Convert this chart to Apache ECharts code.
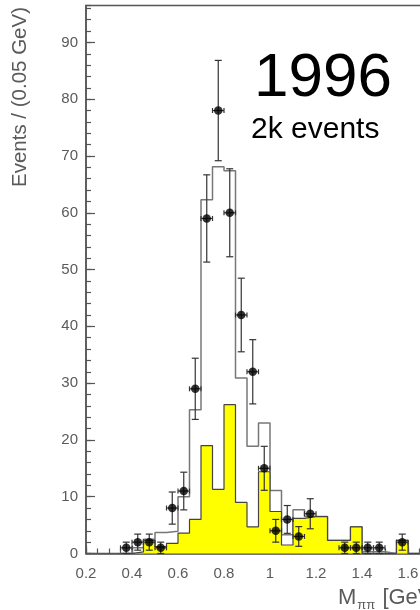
<!DOCTYPE html>
<html>
<head>
<meta charset="utf-8">
<script src="https://cdn.jsdelivr.net/npm/echarts@6/dist/echarts.min.js"></script>
<style>
  html, body { margin: 0; padding: 0; background: #fff; }
  #chart { width: 420px; height: 610px; }
</style>
</head>
<body>
<div id="chart"></div>
<script>
// Histogram bins: lower edges in GeV, 0.05 GeV wide
const binLow = [0.35, 0.40, 0.45, 0.50, 0.55, 0.60, 0.65, 0.70, 0.75, 0.80, 0.85, 0.90, 0.95,
                1.00, 1.05, 1.10, 1.15, 1.20, 1.25, 1.30, 1.35, 1.40, 1.45, 1.50, 1.55, 1.60];
const binWidth = 0.05;
// Open histogram (total expectation)
const totalMC = [0, 1, 2.5, 3.7, 3.9, 10, 25.3, 62.3, 68.1, 67.4, 30.9, 18.9, 23,
                 11.1, 3.3, 7.7, 6.5, 6.5, 2.3, 2.3, 4.7, 0.3, 0.3, 0, 2.3, 0];
// Yellow filled histogram
const yellowMC = [0, 0.3, 2.3, 1.2, 1.8, 3.6, 6, 19, 11.3, 26.2, 9, 4.7, 14.4,
                  7.4, 1.5, 6.2, 6.5, 6.5, 2.3, 2.3, 4.7, 0, 0, 0, 2.3, 0];
// Measured points: bin centre (GeV) and event count
const dataMass = [0.375, 0.425, 0.475, 0.525, 0.575, 0.625, 0.675, 0.725, 0.775, 0.825, 0.875,
                  0.925, 0.975, 1.025, 1.075, 1.125, 1.175, 1.325, 1.375, 1.425, 1.475, 1.575];
const dataEvents = [1, 2, 2, 1, 8, 11, 29, 59, 78, 60, 42, 32, 15, 4, 6, 3, 7, 1, 1, 1, 1, 2];

const xMin = 0.2, xMax = 2.0, xMajor = 0.2, xMinor = 0.05;
const yMin = 0, yMax = 96.5, yMajor = 10, yMinor = 2;

const FONT = 'Liberation Sans, Arial, Helvetica, sans-serif';
const INK = '#333';
const GREY = '#5a5a5a';

// Turn bin contents into a closed step outline
function stepOutline(values) {
  const pts = [[binLow[0], 0]];
  values.forEach((v, i) => pts.push([binLow[i], v]));
  pts.push([binLow[binLow.length - 1] + binWidth, 0]);
  return pts;
}

const chart = echarts.init(document.getElementById('chart'), null, { renderer: 'canvas' });

const axisCommon = {
  type: 'value',
  splitLine: { show: false },
  axisLine: { show: false },
};

chart.setOption({
  animation: false,
  backgroundColor: '#fff',
  grid: {
    left: 86, top: 5.5, width: (xMax - xMin) * 230, height: 548,
    show: true, borderColor: '#555', borderWidth: 1.5, backgroundColor: 'transparent',
    outerBoundsMode: 'none', containLabel: false
  },
  xAxis: [
    Object.assign({}, axisCommon, {
      min: xMin, max: xMax, interval: xMajor, position: 'bottom',
      axisLine: { show: true, onZero: false, lineStyle: { color: '#555', width: 1.5 } },
      axisTick: { show: true, inside: true, length: 8, lineStyle: { color: '#555', width: 1.2 } },
      axisLabel: { show: true, margin: 13, color: GREY, fontFamily: FONT, fontSize: 15,
                   showMaxLabel: false }
    }),
    Object.assign({}, axisCommon, {
      min: xMin, max: xMax, interval: xMinor, position: 'bottom',
      axisTick: { show: true, inside: true, length: 5, lineStyle: { color: '#555', width: 1.2 } },
      axisLabel: { show: false }
    })
  ],
  yAxis: [
    Object.assign({}, axisCommon, {
      min: yMin, max: yMax, interval: yMajor, position: 'left',
      axisLine: { show: true, onZero: false, lineStyle: { color: '#555', width: 1.5 } },
      axisTick: { show: true, inside: true, length: 9, lineStyle: { color: '#555', width: 1.2 } },
      axisLabel: { show: true, margin: 8, color: GREY, fontFamily: FONT, fontSize: 15,
                   showMaxLabel: false }
    }),
    Object.assign({}, axisCommon, {
      min: yMin, max: yMax, interval: yMinor, position: 'left',
      axisTick: { show: true, inside: true, length: 5, lineStyle: { color: '#555', width: 1.2 } },
      axisLabel: { show: false }
    })
  ],
  series: [
    {
      name: 'total',
      type: 'line', step: 'end', xAxisIndex: 0, yAxisIndex: 0,
      data: stepOutline(totalMC),
      symbol: 'none', silent: true, z: 2,
      lineStyle: { color: '#777', width: 1.5 }
    },
    {
      name: 'yellow',
      type: 'line', step: 'end', xAxisIndex: 0, yAxisIndex: 0,
      data: stepOutline(yellowMC),
      symbol: 'none', silent: true, z: 3,
      lineStyle: { color: '#444', width: 1.2 },
      areaStyle: { color: '#ffff00', opacity: 1 }
    },
    {
      name: 'errors',
      type: 'custom', xAxisIndex: 0, yAxisIndex: 0, z: 4, silent: true,
      data: dataMass.map((m, i) => [m, dataEvents[i]]),
      renderItem: function (params, api) {
        const x = api.value(0), n = api.value(1), e = Math.sqrt(n);
        const top = api.coord([x, n + e]);
        const bot = api.coord([x, Math.max(0, n - e)]);
        const left = api.coord([x - binWidth / 2, n]);
        const right = api.coord([x + binWidth / 2, n]);
        const cap = 3.5, hcap = 2.5;
        const style = { stroke: INK, lineWidth: 1.2, fill: null };
        const line = (x1, y1, x2, y2) => ({ type: 'line', shape: { x1, y1, x2, y2 }, style });
        return {
          type: 'group',
          children: [
            line(top[0], top[1], bot[0], bot[1]),
            line(top[0] - cap, top[1], top[0] + cap, top[1]),
            line(bot[0] - cap, bot[1], bot[0] + cap, bot[1]),
            line(left[0], left[1], right[0], right[1]),
            line(left[0], left[1] - hcap, left[0], left[1] + hcap),
            line(right[0], right[1] - hcap, right[0], right[1] + hcap)
          ]
        };
      }
    },
    {
      name: 'data',
      type: 'scatter', xAxisIndex: 0, yAxisIndex: 0, z: 5, silent: true,
      data: dataMass.map((m, i) => [m, dataEvents[i]]),
      symbol: 'circle', symbolSize: 8.5,
      itemStyle: { color: '#000' }
    }
  ],
  graphic: [
    {
      type: 'text', left: 254, top: 48, silent: true,
      style: { text: '1996', fontFamily: FONT, fontSize: 62, fill: '#000' }
    },
    {
      type: 'text', left: 251, top: 115, silent: true,
      style: { text: '2k events', fontFamily: FONT, fontSize: 30, fill: '#000' }
    },
    {
      type: 'text', x: 20, y: 97, rotation: Math.PI / 2, silent: true,
      style: { text: 'Events / (0.05 GeV)', fontFamily: FONT, fontSize: 20.5, fill: GREY,
               align: 'center', verticalAlign: 'middle' }
    },
    {
      type: 'text', x: 338, y: 598, silent: true,
      style: {
        text: '{m|M}{s|ππ}{m| [GeV/c²]}',
        verticalAlign: 'middle',
        rich: {
          m: { fontFamily: FONT, fontSize: 22, fill: GREY, color: GREY },
          s: { fontFamily: FONT, fontSize: 13, fill: GREY, color: GREY, padding: [14, 1, 0, 1] }
        }
      }
    }
  ]
});
</script>
</body>
</html>
